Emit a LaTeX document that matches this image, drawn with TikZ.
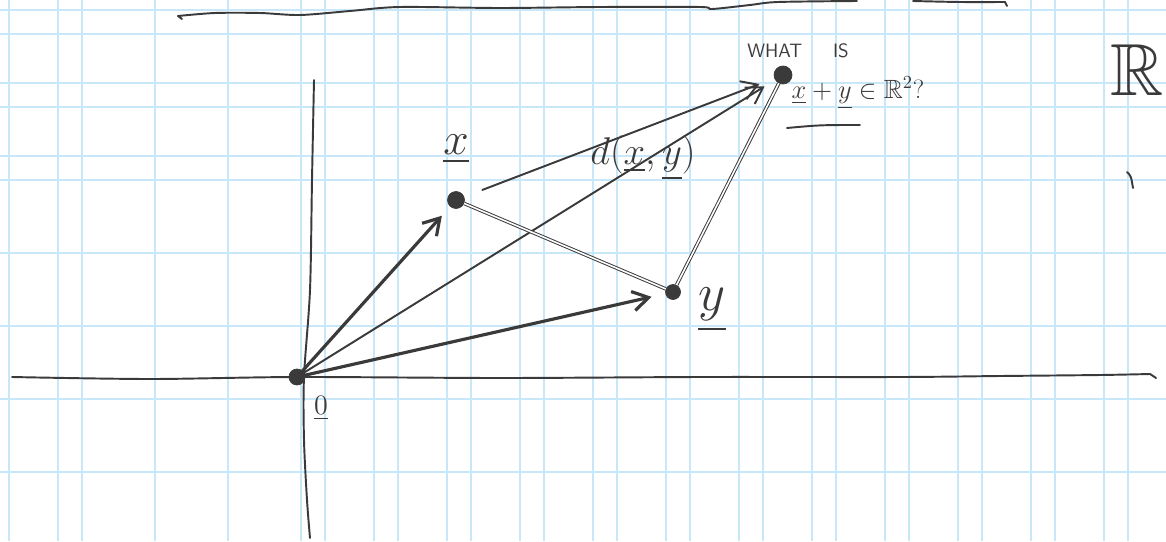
\RequirePackage{fix-cm}
\documentclass[tikz,border=0pt]{standalone}
\usepackage{amsmath}
\usepackage{amssymb}
\usepackage{xcolor}
\usepackage{tikz}
\usetikzlibrary{arrows.meta,positioning,calc}

\definecolor{gridblue}{RGB}{200,232,250}
\definecolor{pen}{RGB}{58,58,58}

\begin{document}
\begin{tikzpicture}[
  x=0.02cm, y=-0.02cm,
  gridline/.style={draw=gridblue, line width=0.65pt},
  ink/.style={draw=pen, line width=1.1pt, line cap=round, line join=round},
  dot/.style={circle, fill=pen, draw=pen, inner sep=0pt, minimum size=0.32cm},
  arrow/.style={ink, -{Straight Barb[length=9pt,width=11pt]}},
  twin/.style={draw=pen, double=white, double distance=0.9pt, line width=0.55pt},
  lab/.style={text=pen, inner sep=1pt}
]

\fill[white] (0,0) rectangle (1166,541);
\useasboundingbox (0,0) rectangle (1166,541);

% paper grid
\foreach \gx in {9,58,82,155,228,301,325,374,398,447,471,520,544,593,617,666,690,739,763,812,836,885,909,958,982,1031,1055,1104,1128}
  \draw[gridline] (\gx,0) -- (\gx,541);
\foreach \gy in {10,34,83,107,156,180,253,326,399,472}
  \draw[gridline] (0,\gy) -- (1166,\gy);

% axes
\draw[ink] plot[smooth] coordinates {(12,377) (150,379) (297,377) (500,378) (700,377) (900,377) (1000,376) (1100,375) (1150,374)} -- (1156,378);
\draw[ink] plot[smooth] coordinates {(314,80) (312,180) (310,290) (304,377) (304,440) (307,500) (310,538)};

% top stroke
\draw[ink] (182,19) -- (178,16) plot[smooth] coordinates {(178,16) (215,13) (260,13) (300,15) (350,11) (400,7) (500,8) (600,7) (700,7) (712,9) (750,5) (778,2) (857,1)};
\draw[ink] plot[smooth] coordinates {(913,1) (960,2) (1005,2)} -- (1007,6);

% points
\node[dot] (O) at (297,377) {};
\node[dot, minimum size=0.34cm] (x) at (456,200) {};
\node[dot, minimum size=0.30cm] (y) at (673,292) {};
\node[dot, minimum size=0.36cm] (xy) at (783,75) {};

% vectors
\draw[arrow, line width=1.8pt, shorten >=7pt] (O) -- (x);
\draw[arrow, line width=1.8pt, shorten >=8pt] (O) -- (y);
\draw[arrow, shorten >=7pt] (O) -- (xy);
\draw[arrow, shorten <=11pt, shorten >=9pt] (x) -- (xy);
\draw[twin] (x) -- (y);
\draw[twin] (y) -- (xy);

% labels
\node[lab, font=\fontsize{26}{28}\selectfont] (xlab) [above=0.5cm of x] {$\underline{x}$};
\node[lab, font=\fontsize{30}{32}\selectfont] (ylab) at (712,310) {$\underline{y}$};
\node[lab, font=\fontsize{16}{18}\selectfont] (olab) [below right=0.22cm and 0.18cm of O] {$\underline{0}$};
\node[lab, font=\fontsize{22}{24}\selectfont] (dlab) at (643,158) {$d(\underline{x},\underline{y})$};
\node[lab, font=\sffamily\fontsize{11}{13}\selectfont] (what) [above=0.12cm of xy, xshift=0.3cm] {WHAT\hspace{1.6em}IS};
\node[lab, font=\fontsize{15}{17}\selectfont] (ask) at (858,93) {$\underline{x}+\underline{y}\in\mathbb{R}^2$?};
\draw[ink] (787,128) .. controls (820,125) .. (860,125);
\node[lab, font=\fontsize{42}{42}\selectfont, anchor=west] (R) at (1108,70) {$\mathbb{R}$};
\draw[ink] (1127,172) .. controls (1131,176) .. (1133,188);

\end{tikzpicture}
\end{document}
